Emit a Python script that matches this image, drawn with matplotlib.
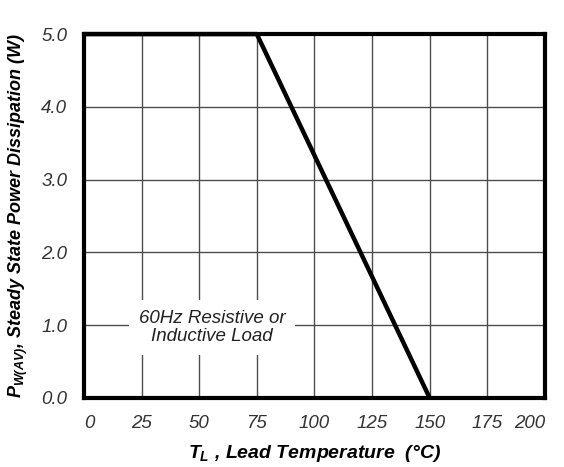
import matplotlib
matplotlib.use('Agg')
import matplotlib.pyplot as plt

# Derating curve: lead temperature (C) vs steady state power (W)
temp = [0, 75, 150]
power = [5.0, 5.0, 0.0]

x_ticks = [0, 25, 50, 75, 100, 125, 150, 175, 200]
y_ticks = [0.0, 1.0, 2.0, 3.0, 4.0, 5.0]
y_tick_labels = ['0.0', '1.0', '2.0', '3.0', '4.0', '5.0']

plt.rcParams['font.family'] = ['Liberation Sans', 'DejaVu Sans']
plt.rcParams['mathtext.fontset'] = 'custom'
plt.rcParams['mathtext.rm'] = 'Liberation Sans:bold:italic'
plt.rcParams['mathtext.it'] = 'Liberation Sans:bold:italic'
plt.rcParams['mathtext.bf'] = 'Liberation Sans:bold:italic'

fig = plt.figure(figsize=(5.64, 4.67), dpi=100)
ax = fig.add_axes([0.149, 0.148, 0.817, 0.779])

ax.plot(temp, power, color='black', lw=3.2, solid_capstyle='butt', clip_on=False, zorder=5)

ax.set_xlim(0, 200)
ax.set_ylim(0, 5)
ax.set_xticks(x_ticks)
ax.set_yticks(y_ticks)
ax.set_yticklabels(y_tick_labels)
ax.grid(True, color='#4d4d4d', lw=1.0)
ax.tick_params(length=0, labelsize=13.5, colors='#333333')
ax.tick_params(axis='x', pad=12)
ax.tick_params(axis='y', pad=12)
for lab in ax.get_xticklabels() + ax.get_yticklabels():
    lab.set_style('italic')
xl = ax.get_xticklabels()
xl[0].set_horizontalalignment('left')
xl[-1].set_horizontalalignment('right')

for sp in ax.spines.values():
    sp.set_linewidth(3)
    sp.set_color('black')

ax.text(55.5, 0.97, '60Hz Resistive or\nInductive Load', ha='center', va='center',
        fontsize=13.5, style='italic', color='#222222', linespacing=1.1,
        bbox=dict(facecolor='white', edgecolor='none', pad=7), zorder=4)

ax.set_xlabel(r'$T_L$ , Lead Temperature  (°C)', fontsize=14, fontweight='bold',
              style='italic', labelpad=8)
ax.set_ylabel(r'$P_{W(AV)}$, Steady State Power Dissipation (W)', fontsize=13,
              fontweight='bold', style='italic', labelpad=8)

fig.savefig('out.png', dpi=100)
